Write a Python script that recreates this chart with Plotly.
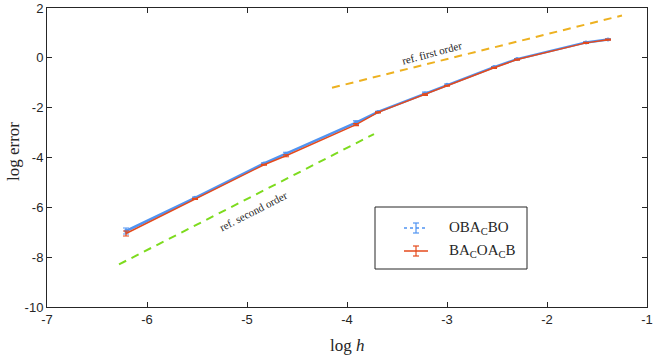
import plotly.graph_objects as go

# log h values of the step sizes
log_h = [-6.21, -5.52, -4.83, -4.61, -3.91, -3.69, -3.22, -3.00, -2.53, -2.30, -1.61, -1.39]

# OBA_C BO
err_obacbo = [-6.95, -5.62, -4.24, -3.85, -2.60, -2.17, -1.43, -1.08, -0.37, -0.05, 0.62, 0.74]
bar_obacbo = [0.12, 0.03, 0.03, 0.06, 0.07, 0.02, 0.05, 0.03, 0.02, 0.02, 0.02, 0.02]

# BA_C OA_C B
err_bacoacb = [-7.05, -5.66, -4.29, -3.93, -2.68, -2.19, -1.48, -1.12, -0.40, -0.07, 0.60, 0.73]
bar_bacoacb = [0.10, 0.02, 0.02, 0.04, 0.04, 0.02, 0.03, 0.02, 0.02, 0.02, 0.02, 0.02]

# reference slopes
ref1_x = [-4.15, -1.25]
ref1_y = [-1.20, 1.70]
ref2_x = [-6.28, -3.73]
ref2_y = [-8.29, -3.06]

x_ticks = [-7, -6, -5, -4, -3, -2, -1]
y_ticks = [-10, -8, -6, -4, -2, 0, 2]

BLUE = '#5094f2'
RED = '#e44a1c'
ORANGE = '#edb120'
GREEN = '#7ddb1e'
DARK = '#262626'
SERIF = 'Liberation Serif, Times New Roman, serif'
SANS = 'Liberation Sans, Arial, sans-serif'

W, H = 654, 358
ML, MR, MT, MB = 47, 7, 8, 51
PW, PH = W - ML - MR, H - MT - MB


def px(x):
    return (x - ML) / PW


def py(y):
    return (H - MB - y) / PH


fig = go.Figure()

fig.add_trace(go.Scatter(x=ref1_x, y=ref1_y, mode='lines', showlegend=False,
                         line=dict(color=ORANGE, width=2, dash='8px,6px')))
fig.add_trace(go.Scatter(x=ref2_x, y=ref2_y, mode='lines', showlegend=False,
                         line=dict(color=GREEN, width=2, dash='8px,6px')))

fig.add_trace(go.Scatter(
    x=log_h, y=err_obacbo, mode='lines+markers', showlegend=False,
    line=dict(color=BLUE, width=2.5),
    marker=dict(color=BLUE, size=4),
    error_y=dict(type='data', array=bar_obacbo, color=BLUE, thickness=1.2, width=3),
))
fig.add_trace(go.Scatter(
    x=log_h, y=err_bacoacb, mode='lines', showlegend=False,
    line=dict(color=RED, width=1.5),
    error_y=dict(type='data', array=bar_bacoacb, color=RED, thickness=1.2, width=3),
))

fig.add_annotation(x=-3.155, y=0.21, text='ref. first order', showarrow=False, textangle=-15,
                   font=dict(family=SERIF, size=11, color=DARK))
fig.add_annotation(x=-4.935, y=-6.14, text='ref. second order', showarrow=False, textangle=-27,
                   font=dict(family=SERIF, size=11, color=DARK))

# hand-drawn legend box (matlab style glyphs with error bars)
fig.add_shape(type='rect', xref='paper', yref='paper', x0=px(375), x1=px(527), y0=py(269), y1=py(207),
              line=dict(color=DARK, width=1), fillcolor='white', layer='above')
legend_items = [('OBA<sub>C</sub>BO', BLUE, 'dot', 228), ('BA<sub>C</sub>OA<sub>C</sub>B', RED, 'solid', 251)]
for label, col, dash, yc in legend_items:
    fig.add_shape(type='line', xref='paper', yref='paper', x0=px(404), x1=px(428), y0=py(yc), y1=py(yc),
                  line=dict(color=col, width=1.5, dash=dash), layer='above')
    fig.add_shape(type='line', xref='paper', yref='paper', x0=px(416), x1=px(416), y0=py(yc + 5), y1=py(yc - 5),
                  line=dict(color=col, width=1.2), layer='above')
    for yy in (yc - 5, yc + 5):
        fig.add_shape(type='line', xref='paper', yref='paper', x0=px(413), x1=px(419), y0=py(yy), y1=py(yy),
                      line=dict(color=col, width=1.2), layer='above')
    fig.add_annotation(xref='paper', yref='paper', x=px(447), y=py(yc), xanchor='left', yanchor='middle',
                       text=label, showarrow=False, font=dict(family=SERIF, size=15, color=DARK))

# axis titles
fig.add_annotation(xref='paper', yref='paper', x=0.5, y=py(345), text='log <i>h</i>', showarrow=False,
                   xanchor='center', yanchor='middle', font=dict(family=SERIF, size=17, color=DARK))
fig.add_annotation(xref='paper', yref='paper', x=px(13), y=py(152), text='log error', showarrow=False,
                   textangle=-90, xanchor='center', yanchor='middle', font=dict(family=SERIF, size=17, color=DARK))

axis_common = dict(showline=True, linecolor=DARK, linewidth=1, mirror='ticks', automargin=False,
                   ticks='inside', ticklen=5, tickcolor=DARK, showgrid=False, zeroline=False,
                   tickfont=dict(family=SANS, size=13, color=DARK))

fig.update_layout(
    width=W, height=H,
    margin=dict(l=ML, r=MR, t=MT, b=MB),
    paper_bgcolor='white', plot_bgcolor='white',
    xaxis=dict(range=[-7, -1], tickvals=x_ticks, ticktext=[str(v) for v in x_ticks], **axis_common),
    yaxis=dict(range=[-10, 2], tickvals=y_ticks, ticktext=[str(v) for v in y_ticks], **axis_common),
    showlegend=False,
)

# drop the default 8px body margin so the figure sits at the window corner
fig.write_html("out.html", config={'displayModeBar': False},
               post_script="document.body.style.margin = '0';")
